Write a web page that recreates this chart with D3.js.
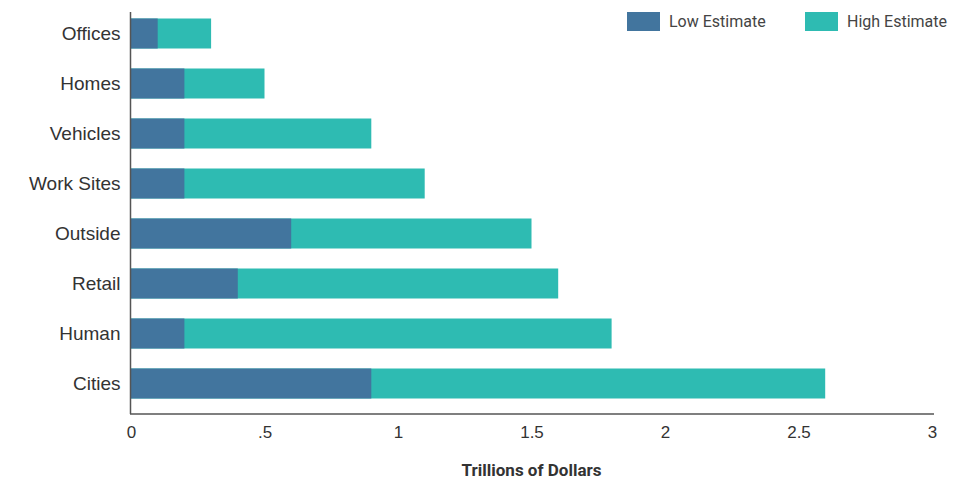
<!DOCTYPE html>
<html><head><meta charset="utf-8">
<script src="https://cdn.jsdelivr.net/npm/d3@7"></script>
<style>body{margin:0;background:#fff;}svg{display:block;font-family:"Roboto","DejaVu Sans",sans-serif;}</style>
</head><body><svg id="c" width="979" height="480"></svg>
<script>
const categories = ["Offices","Homes","Vehicles","Work Sites","Outside","Retail","Human","Cities"];
const lowEstimate = [0.1,0.2,0.2,0.2,0.6,0.4,0.2,0.9];
const highEstimate = [0.3,0.5,0.9,1.1,1.5,1.6,1.8,2.6];
const tickValues = [0,0.5,1,1.5,2,2.5,3];
const tickLabels = ["0",".5","1","1.5","2","2.5","3"];
const seriesNames = ["Low Estimate","High Estimate"];
const colors = ["#42759e","#2ebbb2"];

const svg = d3.select("#c");
const x = d3.scaleLinear().domain([0,3]).range([131,932]);
const y = d3.scaleBand().domain(categories).range([2,415]).paddingInner(0.4).paddingOuter(0.33);

// high bars
svg.append("g").selectAll("rect").data(categories).join("rect")
  .attr("x", x(0)).attr("y", d=>y(d)).attr("height", y.bandwidth())
  .attr("width", (d,i)=>x(highEstimate[i])-x(0)).attr("fill", colors[1]);
// low bars
svg.append("g").selectAll("rect").data(categories).join("rect")
  .attr("x", x(0)).attr("y", d=>y(d)).attr("height", y.bandwidth())
  .attr("width", (d,i)=>x(lowEstimate[i])-x(0)).attr("fill", colors[0]);

// x axis
const xa = svg.append("g").attr("transform","translate(0,414)")
  .call(d3.axisBottom(x).tickValues(tickValues).tickFormat((d,i)=>tickLabels[i]).tickSize(0).tickPadding(12));
xa.select(".domain").attr("stroke","#555").attr("stroke-width",1.5).attr("d","M130,0H934");
xa.selectAll("text").attr("font-size",17).attr("fill","#333").attr("font-family","inherit");

// y axis
const ya = svg.append("g").attr("transform","translate(130.5,0)")
  .call(d3.axisLeft(y).tickSize(0).tickPadding(10));
ya.select(".domain").attr("stroke","#555").attr("stroke-width",1.5).attr("d","M0,12V414");
ya.selectAll("text").attr("font-size",19).attr("fill","#333").attr("font-family","inherit");

// axis title
svg.append("text").attr("x",(x(0)+x(3))/2).attr("y",476).attr("text-anchor","middle")
  .attr("font-size",17).attr("font-weight","bold").attr("fill","#333").text("Trillions of Dollars");

// legend
const lx = [627,805];
const lg = svg.append("g").selectAll("g").data(seriesNames).join("g")
  .attr("transform",(d,i)=>`translate(${lx[i]},12)`);
lg.append("rect").attr("width",33).attr("height",19).attr("fill",(d,i)=>colors[i]);
lg.append("text").attr("x",42).attr("y",15).attr("font-size",16).attr("fill","#444").text(d=>d);
</script></body></html>
